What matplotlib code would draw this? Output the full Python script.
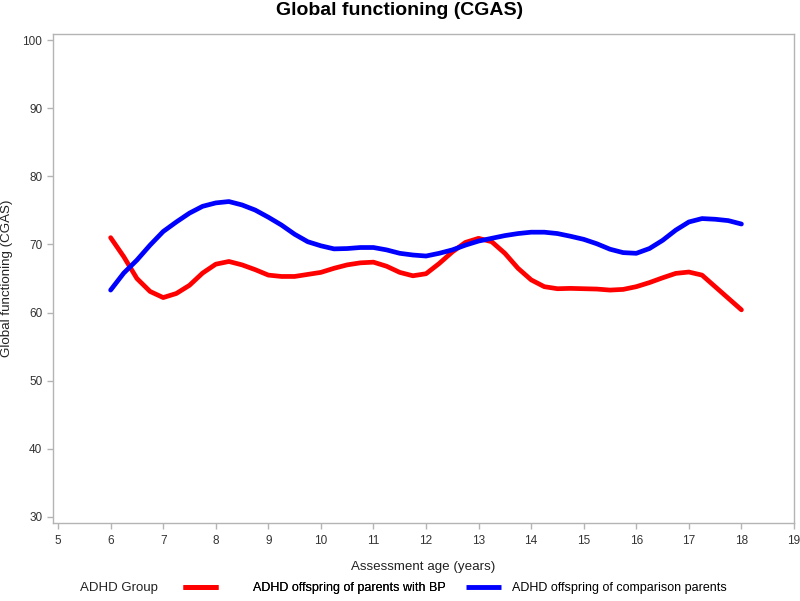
import matplotlib
matplotlib.use("Agg")
import matplotlib.pyplot as plt
from matplotlib.lines import Line2D

plt.rcParams["font.family"] = ["Liberation Sans", "DejaVu Sans"]

# values (quarter-year steps)
ages = [6.0, 6.25, 6.5, 6.75, 7.0, 7.25, 7.5, 7.75, 8.0, 8.25, 8.5, 8.75,
        9.0, 9.25, 9.5, 9.75, 10.0, 10.25, 10.5, 10.75, 11.0, 11.25, 11.5, 11.75,
        12.0, 12.25, 12.5, 12.75, 13.0, 13.25, 13.5, 13.75, 14.0, 14.25, 14.5, 14.75,
        15.0, 15.25, 15.5, 15.75, 16.0, 16.25, 16.5, 16.75, 17.0, 17.25, 17.5, 17.75, 18.0]
bp_offspring = [71.0, 68.2, 65.0, 63.1, 62.2, 62.8, 64.0, 65.8, 67.1, 67.5, 67.0, 66.3,
                65.5, 65.3, 65.3, 65.6, 65.9, 66.5, 67.0, 67.3, 67.4, 66.8, 65.9, 65.4,
                65.7, 67.2, 68.9, 70.3, 70.9, 70.4, 68.7, 66.5, 64.8, 63.8, 63.5, 63.55,
                63.5, 63.45, 63.3, 63.4, 63.8, 64.4, 65.1, 65.75, 65.95, 65.5, 63.8, 62.1, 60.4]
comparison_offspring = [63.3, 65.8, 67.7, 69.9, 71.9, 73.3, 74.6, 75.6, 76.1, 76.3, 75.8, 75.05,
                        74.0, 72.85, 71.5, 70.4, 69.8, 69.35, 69.4, 69.55, 69.55, 69.2, 68.7, 68.45,
                        68.3, 68.7, 69.2, 69.9, 70.5, 70.9, 71.3, 71.6, 71.8, 71.8, 71.6, 71.2,
                        70.75, 70.1, 69.3, 68.8, 68.7, 69.4, 70.6, 72.1, 73.3, 73.8, 73.7, 73.5, 73.0]
series_labels = ["ADHD offspring of parents with BP", "ADHD offspring of comparison parents"]
series_colors = ["#ff0000", "#0000ff"]
x_ticks = list(range(5, 20))
y_ticks = list(range(30, 101, 10))

fig = plt.figure(figsize=(8, 6.01), dpi=100)
ax = fig.add_axes([0.066, 0.1298, 0.9265, 0.8136])

for vals, col in zip([bp_offspring, comparison_offspring], series_colors):
    ax.plot(ages, vals, color=col, linewidth=3.4, solid_capstyle="round")

ax.set_xlim(4.9, 19.0)
ax.set_ylim(29.1, 100.9)
ax.set_xticks(x_ticks)
ax.set_yticks(y_ticks)

spine_col = "#b4b4b4"
for s in ax.spines.values():
    s.set_color(spine_col)
    s.set_linewidth(1.0)
ax.tick_params(colors=spine_col, labelcolor="#333333", labelsize=8.5, length=4, width=1)
ax.tick_params(axis="x", pad=5)

ax.set_xlabel("Assessment age (years)", fontsize=9.6, color="#222222", labelpad=10)
ax.set_ylabel("Global functioning (CGAS)", fontsize=9.6, color="#222222")
ax.yaxis.set_label_coords(-0.054, 0.5)
fig.suptitle("Global functioning (CGAS)", fontsize=14, fontweight="bold",
             x=0.5, y=0.996, va="top")

fig.text(0.10, 0.021, "ADHD Group", fontsize=9.5, color="#222222", va="center")
leg1 = fig.legend(handles=[Line2D([], [], color=series_colors[0], linewidth=3.5,
                                  solid_capstyle="butt")],
                  labels=[series_labels[0]], loc="center left",
                  bbox_to_anchor=(0.229, 0.021), frameon=False, fontsize=9,
                  handlelength=2.8, handletextpad=2.8, borderpad=0, borderaxespad=0)
fig.legend(handles=[Line2D([], [], color=series_colors[1], linewidth=3.5,
                           solid_capstyle="butt")],
           labels=[series_labels[1]], loc="center left",
           bbox_to_anchor=(0.583, 0.021), frameon=False, fontsize=9,
           handlelength=2.8, handletextpad=0.85, borderpad=0, borderaxespad=0)
fig.add_artist(leg1)

fig.savefig("out.png", dpi=100)
